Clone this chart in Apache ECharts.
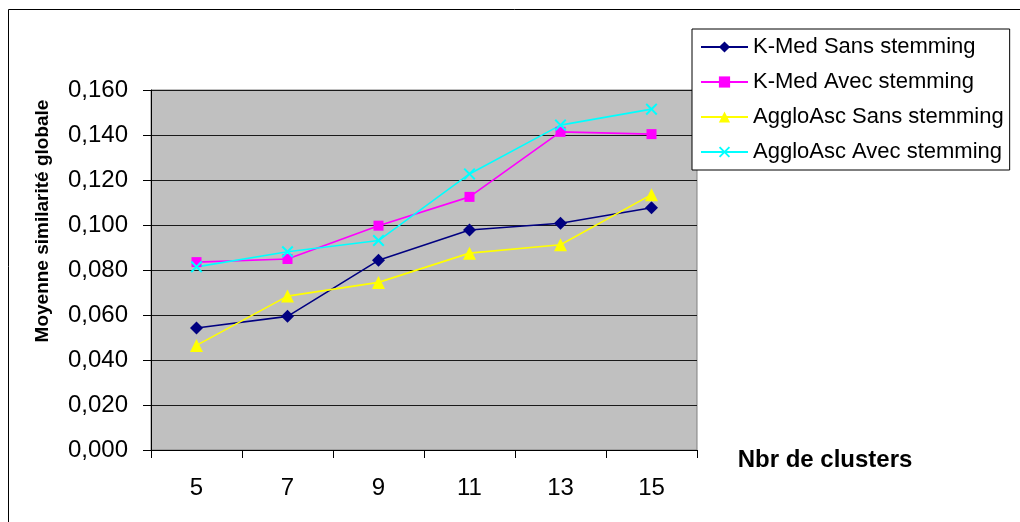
<!DOCTYPE html>
<html>
<head>
<meta charset="utf-8">
<title>Moyenne similarité globale</title>
<script src="https://cdn.jsdelivr.net/npm/echarts@6/dist/echarts.min.js"></script>
<style>
  html, body { margin: 0; padding: 0; background: #fff; }
  #chart { width: 1020px; height: 522px; }
</style>
</head>
<body>
<div id="chart"></div>
<script>
// Number of clusters on the x axis
const clusters = ['5', '7', '9', '11', '13', '15'];

// Mean global similarity per method
const kmedSans = [0.0542, 0.0594, 0.0843, 0.0978, 0.1008, 0.1077];
const kmedAvec = [0.0835, 0.0849, 0.0997, 0.1125, 0.1414, 0.1404];
const aggloSans = [0.0465, 0.0684, 0.0745, 0.0875, 0.0912, 0.1135];
const aggloAvec = [0.0814, 0.0881, 0.0931, 0.1227, 0.1444, 0.1515];

const seriesNames = [
  'K-Med Sans stemming',
  'K-Med Avec stemming',
  'AggloAsc Sans stemming',
  'AggloAsc Avec stemming'
];

// Filled "x" cross marker
const crossPath = 'path://M0,1.2 L1.2,0 L5,3.8 L8.8,0 L10,1.2 L6.2,5 L10,8.8 L8.8,10 L5,6.2 L1.2,10 L0,8.8 L3.8,5 Z';

const FONT = 'Arial, "Liberation Sans", Helvetica, sans-serif';

function lineSeries(name, data, color, symbol, size) {
  return {
    name: name,
    type: 'line',
    data: data,
    symbol: symbol,
    symbolSize: size,
    showSymbol: true,
    lineStyle: { color: color, width: 1.6 },
    itemStyle: { color: color, borderWidth: 0 },
    emphasis: { disabled: true },
    animation: false,
    z: 3
  };
}

const chart = echarts.init(document.getElementById('chart'), null, { renderer: 'canvas' });

chart.setOption({
  backgroundColor: '#ffffff',
  animation: false,
  textStyle: { fontFamily: FONT },
  grid: {
    left: 151,
    right: 323,
    top: 90,
    bottom: 72,
    show: true,
    backgroundColor: '#c0c0c0',
    borderColor: '#808080',
    borderWidth: 1
  },
  legend: {
    orient: 'vertical',
    left: 692,
    top: 29,
    padding: [7, 6, 7, 8],
    itemGap: 13,
    itemWidth: 47,
    itemHeight: 14,
    backgroundColor: '#ffffff',
    borderColor: '#000000',
    borderWidth: 1,
    selectedMode: false,
    textStyle: { fontFamily: FONT, fontSize: 22, color: '#000000' },
    data: seriesNames
  },
  xAxis: {
    type: 'category',
    data: clusters,
    boundaryGap: true,
    axisLine: { show: true, lineStyle: { color: '#000000', width: 1 } },
    axisTick: { show: true, alignWithLabel: false, length: 8, lineStyle: { color: '#000000' } },
    axisLabel: { fontFamily: FONT, fontSize: 24, color: '#000000', margin: 26 },
    splitLine: { show: false }
  },
  yAxis: {
    type: 'value',
    min: 0,
    max: 0.16,
    interval: 0.02,
    axisLine: { show: true, lineStyle: { color: '#000000', width: 1 } },
    axisTick: { show: true, length: 8, lineStyle: { color: '#000000' } },
    axisLabel: {
      fontFamily: FONT,
      fontSize: 24,
      color: '#000000',
      margin: 23,
      formatter: function (v) { return v.toFixed(3).replace('.', ','); }
    },
    splitLine: { show: true, lineStyle: { color: '#1a1a1a', width: 1 } }
  },
  series: [
    lineSeries(seriesNames[0], kmedSans, '#000080', 'diamond', 13),
    lineSeries(seriesNames[1], kmedAvec, '#ff00ff', 'rect', 10),
    lineSeries(seriesNames[2], aggloSans, '#ffff00', 'triangle', 13),
    lineSeries(seriesNames[3], aggloAvec, '#00ffff', crossPath, 12)
  ],
  graphic: [
    {
      // outer chart frame
      type: 'rect',
      silent: true,
      z: -10,
      shape: { x: 8.5, y: 9.5, width: 1100, height: 600 },
      style: { fill: 'none', stroke: '#000000', lineWidth: 1 }
    },
    {
      type: 'text',
      silent: true,
      x: 43,
      y: 221,
      rotation: Math.PI / 2,
      style: {
        text: 'Moyenne similarité globale',
        font: 'bold 19px ' + FONT,
        fill: '#000000',
        align: 'center',
        verticalAlign: 'middle'
      }
    },
    {
      type: 'text',
      silent: true,
      x: 825,
      y: 460,
      style: {
        text: 'Nbr de clusters',
        font: 'bold 24px ' + FONT,
        fill: '#000000',
        align: 'center',
        verticalAlign: 'middle'
      }
    }
  ]
});
</script>
</body>
</html>
